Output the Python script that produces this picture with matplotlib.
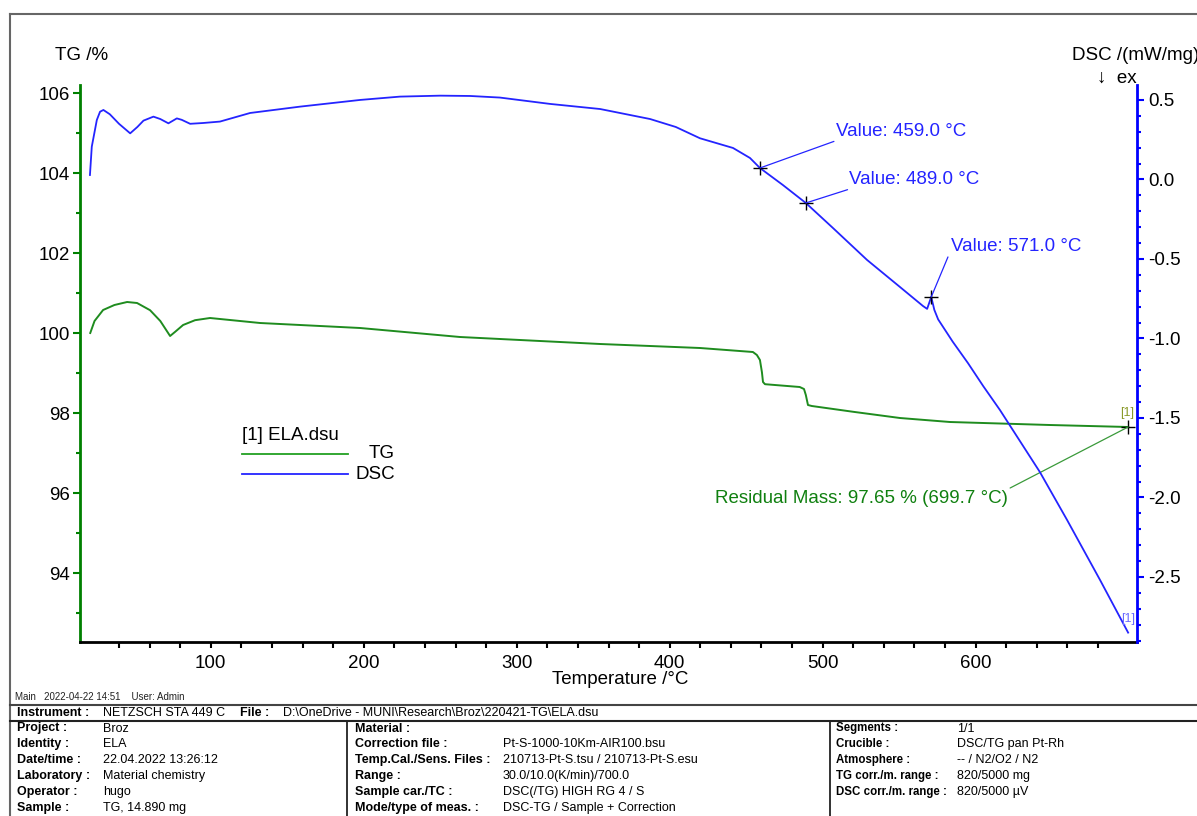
import matplotlib
matplotlib.use("Agg")
import matplotlib.pyplot as plt
import numpy as np
from matplotlib.lines import Line2D
from matplotlib.ticker import MultipleLocator

plt.rcParams['font.family'] = ['Liberation Sans', 'DejaVu Sans']

W, H = 1197, 816

# DSC curve (temperature in C, mW/mg)
dsc_temp = [21, 22.2, 25.5, 27.6, 29.8, 34, 40, 47.3, 52, 56, 62.5, 67, 72.3, 77.8, 81,
            86.5, 95, 106, 125.7, 158.4, 197.6, 223.7, 250, 269.5, 289, 321.8, 354.5,
            387.2, 404, 419.8, 441.4, 452.5, 459, 474, 489, 506.7, 529, 550.5, 565.6,
            568.3, 571, 573, 575.5, 585, 595, 605, 615.9, 642, 659.7, 681.4, 699.7]
dsc_val = [0.028, 0.206, 0.374, 0.426, 0.437, 0.41, 0.35, 0.29, 0.33, 0.37, 0.395, 0.38,
           0.353, 0.384, 0.375, 0.35, 0.355, 0.364, 0.418, 0.458, 0.50, 0.521, 0.527,
           0.525, 0.515, 0.475, 0.443, 0.38, 0.33, 0.259, 0.198, 0.135, 0.072, -0.035,
           -0.148, -0.305, -0.506, -0.676, -0.796, -0.814, -0.739, -0.82, -0.88, -1.02,
           -1.155, -1.30, -1.45, -1.84, -2.14, -2.52, -2.85]

# TG curve (temperature in C, %)
tg_temp = [21.2, 24, 29.6, 37, 45.3, 51.8, 60.3, 67, 73.4, 76.7, 81.9, 89.7, 99.5, 132.2,
           197.6, 262.9, 354.5, 419.8, 454.4, 457, 459, 460.3, 461, 462.3, 485, 487.8,
           489, 490.4, 492.9, 520, 550.5, 583.2, 648.5, 699.7]
tg_val = [100.0, 100.3, 100.575, 100.7, 100.775, 100.75, 100.57, 100.3, 99.925, 100.03,
          100.2, 100.32, 100.375, 100.25, 100.125, 99.9, 99.725, 99.625, 99.525, 99.45,
          99.325, 99.02, 98.775, 98.72, 98.65, 98.6, 98.45, 98.2, 98.175, 98.03, 97.875,
          97.775, 97.7, 97.65]

peak_temps = [459.0, 489.0, 571.0]
residual_temp = 699.7
residual_mass = 97.65

x_major = [100, 200, 300, 400, 500, 600]
x_minor = [t for t in range(40, 700, 20) if t % 100]

blue = '#2424ff'
green = '#1f8c1f'


def px(x, y):
    return x / W, 1 - y / H


fig = plt.figure(figsize=(W / 100, H / 100), dpi=100)
ax = fig.add_axes([80 / W, 1 - 642 / H, (1137 - 80) / W, (642 - 85) / H])
ax2 = ax.twinx()

ax.plot(tg_temp, tg_val, color=green, lw=1.4)
ax2.plot(dsc_temp, dsc_val, color=blue, lw=1.3)

ax.set_xlim(14.5, 705.5)
ax.set_ylim(92.275, 106.2)
ax2.set_ylim(-2.909, 0.594)

ax.set_xticks(x_major)
ax.set_xticks(x_minor, minor=True)
ax.yaxis.set_major_locator(MultipleLocator(2))
ax.yaxis.set_minor_locator(MultipleLocator(1))
ax2.yaxis.set_major_locator(MultipleLocator(0.5))
ax2.yaxis.set_minor_locator(MultipleLocator(0.1))
ax2.yaxis.set_major_formatter(matplotlib.ticker.FormatStrFormatter('%.1f'))

for s in ['top', 'right']:
    ax.spines[s].set_visible(False)
for s in ['top', 'left', 'bottom']:
    ax2.spines[s].set_visible(False)
ax.spines['left'].set_color('#008000')
ax.spines['left'].set_linewidth(2)
ax.spines['bottom'].set_linewidth(2)
ax2.spines['right'].set_color('#0000ff')
ax2.spines['right'].set_linewidth(2)

ax.tick_params(axis='y', which='both', colors='#008000', labelcolor='black', width=1.5,
               labelsize=13.5, pad=2)
ax.tick_params(axis='y', which='major', length=5)
ax.tick_params(axis='y', which='minor', length=3)
ax.tick_params(axis='x', which='both', length=4, width=1.5, labelsize=13.5, pad=5)
ax2.tick_params(axis='y', which='both', colors='#0000ff', labelcolor='black', width=1.5,
                labelsize=13.5, pad=3)
ax2.tick_params(axis='y', which='major', length=5)
ax2.tick_params(axis='y', which='minor', length=3)

# peak markers on the DSC curve
offsets = [((74, 26.6), (75.7, 36.3)), ((41.7, 13.3), (43.3, 23.3)), ((16.7, 40), (19.3, 50))]
for t, (lo, to) in zip(peak_temps, offsets):
    v = np.interp(t, dsc_temp, dsc_val)
    ax2.plot([t], [v], marker='+', color='black', ms=10, mew=1)
    ax2.annotate('', xy=(t, v), xytext=lo, textcoords='offset pixels',
                 arrowprops=dict(arrowstyle='-', color=blue, lw=0.9, shrinkA=0, shrinkB=0))
    ax2.annotate('Value: %.1f \u00b0C' % t, xy=(t, v), xytext=to, textcoords='offset pixels',
                 color=blue, fontsize=13.5, ha='left', va='center')

# residual mass
ax.plot([residual_temp], [residual_mass], marker='+', color='black', ms=10, mew=1)
ax.annotate('', xy=(residual_temp, residual_mass), xytext=(-118, -61), textcoords='offset pixels',
            arrowprops=dict(arrowstyle='-', color='#3a9a3a', lw=0.9, shrinkA=0, shrinkB=0))
ax.annotate('Residual Mass: %.2f %% (%.1f \u00b0C)' % (residual_mass, residual_temp),
            xy=(residual_temp, residual_mass), xytext=(-120, -71), textcoords='offset pixels',
            color='#108010', fontsize=13.5, ha='right', va='center')
ax.annotate('[1]', xy=(residual_temp, residual_mass), xytext=(-1, 14), textcoords='offset pixels',
            color='#8a9a2a', fontsize=9, ha='center', va='center')
ax2.annotate('[1]', xy=(dsc_temp[-1], dsc_val[-1]), xytext=(0, 14), textcoords='offset pixels',
             color='#6a6aff', fontsize=9, ha='center', va='center')

# axis titles
fig.text(*px(55, 55), 'TG /%', fontsize=13.5, ha='left', va='center')
fig.text(*px(1072, 55), 'DSC /(mW/mg)', fontsize=13.5, ha='left', va='center')
fig.text(*px(1137, 78), '\u2193  ex', fontsize=13.5, ha='right', va='center')
fig.text(*px(620, 680), 'Temperature /\u00b0C', fontsize=13.5, ha='center', va='center')

# legend
fig.text(*px(242, 435), '[1] ELA.dsu', fontsize=13.5, ha='left', va='center')
fig.add_artist(Line2D([242 / W, 348 / W], [1 - 454.3 / H] * 2, color='#22a022', lw=1.3))
fig.add_artist(Line2D([242 / W, 348 / W], [1 - 474.3 / H] * 2, color=blue, lw=1.3))
fig.text(*px(395, 453), 'TG', fontsize=13.5, ha='right', va='center')
fig.text(*px(395, 474), 'DSC', fontsize=13.5, ha='right', va='center')

# frame
frame = '#666666'
fig.add_artist(Line2D([10 / W, 1], [1 - 14 / H] * 2, color=frame, lw=1.5))
fig.add_artist(Line2D([10 / W, 10 / W], [1 - 14 / H, 0], color=frame, lw=1.5))
fig.add_artist(Line2D([10 / W, 1], [1 - 705 / H] * 2, color='#444444', lw=1.5))
fig.add_artist(Line2D([10 / W, 1], [1 - 721 / H] * 2, color='#222222', lw=1.5))
fig.add_artist(Line2D([347 / W, 347 / W], [1 - 721 / H, 0], color='#222222', lw=1.3))
fig.add_artist(Line2D([830 / W, 830 / W], [1 - 721 / H, 0], color='#222222', lw=1.3))

fig.text(*px(15, 697), 'Main   2022-04-22 14:51    User: Admin', fontsize=7, ha='left',
         va='center', color='#222222')

fig.text(*px(17, 713), 'Instrument :', fontsize=9, fontweight='bold', ha='left', va='center')
fig.text(*px(103, 713), 'NETZSCH STA 449 C', fontsize=9, ha='left', va='center')
fig.text(*px(240, 713), 'File :', fontsize=9, fontweight='bold', ha='left', va='center')
fig.text(*px(283, 713), r'D:\OneDrive - MUNI\Research\Broz\220421-TG\ELA.dsu', fontsize=9,
         ha='left', va='center')

left_labels = ['Project :', 'Identity :', 'Date/time :', 'Laboratory :', 'Operator :', 'Sample :']
left_values = ['Broz', 'ELA', '22.04.2022 13:26:12', 'Material chemistry', 'hugo', 'TG, 14.890 mg']
mid_labels = ['Material :', 'Correction file :', 'Temp.Cal./Sens. Files :', 'Range :',
              'Sample car./TC :', 'Mode/type of meas. :']
mid_values = ['', 'Pt-S-1000-10Km-AIR100.bsu', '210713-Pt-S.tsu / 210713-Pt-S.esu',
              '30.0/10.0(K/min)/700.0', 'DSC(/TG) HIGH RG 4 / S', 'DSC-TG / Sample + Correction']
right_labels = ['Segments :', 'Crucible :', 'Atmosphere :', 'TG corr./m. range :',
                'DSC corr./m. range :']
right_values = ['1/1', 'DSC/TG pan Pt-Rh', '-- / N2/O2 / N2', '820/5000 mg',
                '820/5000 \u00b5V']

cols = [(17, 103, left_labels, left_values, 9), (355, 503, mid_labels, mid_values, 9),
        (836, 957, right_labels, right_values, 8.3)]
for xl, xv, labs, vals, fs in cols:
    for i, (lab, val) in enumerate(zip(labs, vals)):
        y = 728.5 + i * 15.8
        fig.text(*px(xl, y), lab, fontsize=fs, fontweight='bold', ha='left', va='center')
        fig.text(*px(xv, y), val, fontsize=9, ha='left', va='center')

fig.savefig('out.png', dpi=100)
